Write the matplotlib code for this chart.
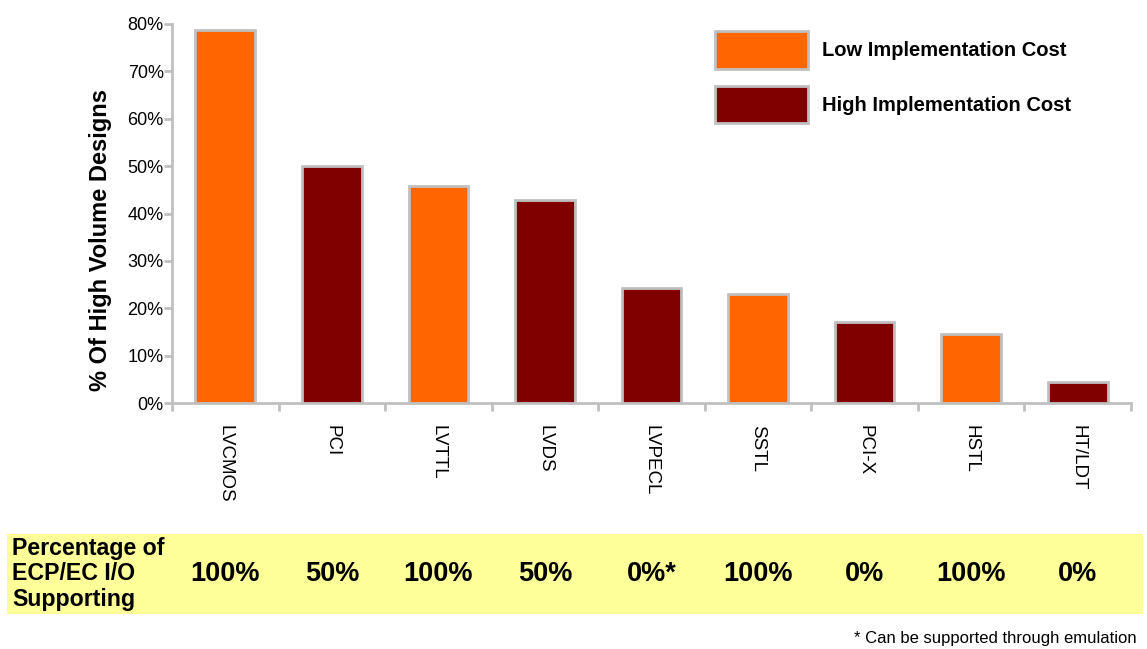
import matplotlib
matplotlib.use("Agg")
import matplotlib.pyplot as plt
import matplotlib.transforms as mtransforms
from matplotlib.patches import Rectangle, Patch
from matplotlib.ticker import FixedLocator, PercentFormatter
import numpy as np

plt.rcParams['font.family'] = ['Liberation Sans', 'DejaVu Sans']

categories = ["LVCMOS", "PCI", "LVTTL", "LVDS", "LVPECL", "SSTL", "PCI-X", "HSTL", "HT/LDT"]
values = [78.7, 50.0, 45.8, 42.8, 24.3, 23.0, 17.1, 14.6, 4.4]
cost = ["Low", "High", "Low", "High", "High", "Low", "High", "Low", "High"]
support = ["100%", "50%", "100%", "50%", "0%*", "100%", "0%", "100%", "0%"]
series_names = {"Low": "Low Implementation Cost", "High": "High Implementation Cost"}
colors = {"Low": "#FF6600", "High": "#800000"}
edge = "#C0C0C0"

W, H = 1147, 649
fig = plt.figure(figsize=(W / 100, H / 100), dpi=100)
ax = fig.add_axes([172 / W, 1 - 403 / H, (1131 - 172) / W, (403 - 24) / H])

x = np.arange(len(categories))
ax.bar(x, values, width=0.56, color=[colors[c] for c in cost],
       edgecolor=edge, linewidth=2, zorder=3)
ax.set_xlim(-0.5, len(categories) - 0.5)
ax.set_ylim(0, 80)
ax.yaxis.set_major_locator(FixedLocator(np.arange(0, 81, 10)))
ax.yaxis.set_major_formatter(PercentFormatter(decimals=0))
ax.set_xticks(x)
ax.set_xticklabels(categories, rotation=270, fontsize=13.5, va='top', ha='center')
ax.tick_params(axis='x', which='major', length=0, pad=16)
ax.set_xticks(np.arange(-0.5, len(categories)), minor=True)
ax.tick_params(axis='x', which='minor', length=6, width=2, color=edge, direction='out')
ax.tick_params(axis='y', length=6, width=2, color=edge, labelsize=13, pad=0)
for s in ['top', 'right']:
    ax.spines[s].set_visible(False)
for s in ['left', 'bottom']:
    ax.spines[s].set_color(edge)
    ax.spines[s].set_linewidth(2)
ax.set_ylabel("% Of High Volume Designs", fontsize=17, fontweight='bold')
ax.yaxis.set_label_coords(-0.0626, 0.43)

handles = [Patch(facecolor=colors[k], edgecolor=edge, linewidth=2, label=series_names[k])
           for k in ["Low", "High"]]
leg = fig.legend(handles=handles, loc='upper left', bbox_to_anchor=(715 / W, 1 - 31 / H),
                 frameon=False, fontsize=14.5, handlelength=4.6, handleheight=2.5,
                 labelspacing=0.85, handletextpad=0.7, borderaxespad=0, borderpad=0)
for t in leg.get_texts():
    t.set_fontweight('bold')

# yellow support band
fig.patches.append(Rectangle((7 / W, 1 - 614 / H), (1143 - 7) / W, (614 - 534) / H,
                             transform=fig.transFigure, facecolor="#FFFF99",
                             edgecolor='none', zorder=0))
fig.text(12 / W, 1 - 574 / H, "Percentage of\nECP/EC I/O\nSupporting", fontsize=16.7,
         fontweight='bold', va='center', ha='left', linespacing=1.15)
trans = mtransforms.blended_transform_factory(ax.transData, fig.transFigure)
for xi, s in zip(x, support):
    fig.text(xi, 1 - 574 / H, s, transform=trans, fontsize=19.5, fontweight='bold',
             ha='center', va='center')

fig.text(1137 / W, 1 - 638 / H, "* Can be supported through emulation", fontsize=12,
         ha='right', va='center')

fig.savefig("out.png", dpi=100)
